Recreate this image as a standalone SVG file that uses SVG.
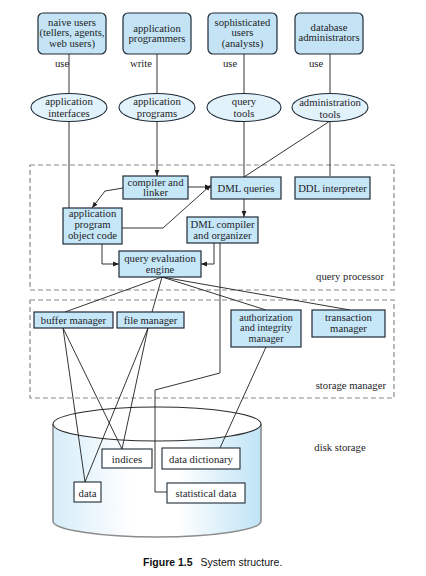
<svg xmlns="http://www.w3.org/2000/svg" width="426" height="576" viewBox="0 0 426 576">
<defs>
<style>
text{font-family:"Liberation Serif","DejaVu Serif",serif;font-size:10.7px;fill:#1e1e28;text-anchor:middle}
.sm{font-size:10.2px}
.ub{fill:#c4e4f5;stroke:#1e2a36;stroke-width:1.2}
.el{fill:#e2f2fb;stroke:#1e2a36;stroke-width:1.1}
.bx{fill:#c6e7f8;stroke:#1e2a36;stroke-width:1.2}
.wb{fill:#ffffff;stroke:#1e2a36;stroke-width:1.1}
.dash{fill:none;stroke:#8a8a8a;stroke-width:1.2;stroke-dasharray:5,3}
.ln{fill:none;stroke:#1e1e1e;stroke-width:0.9}
.ar{marker-end:url(#ah)}
.lbl{text-anchor:end}
.cap{font-family:"Liberation Sans",Arial,sans-serif;font-size:10.5px;text-anchor:start;fill:#111}
</style>
<marker id="ah" viewBox="0 0 10 10" refX="10" refY="5" markerWidth="6" markerHeight="6" orient="auto" markerUnits="userSpaceOnUse">
<path d="M0,1 L10,5 L0,9 Z" fill="#1e1e1e"/>
</marker>
<linearGradient id="cyl" x1="0" y1="0" x2="1" y2="0">
<stop offset="0" stop-color="#d6edf9"/>
<stop offset="0.38" stop-color="#ffffff"/>
<stop offset="0.6" stop-color="#ffffff"/>
<stop offset="1" stop-color="#bfe3f6"/>
</linearGradient>
</defs>

<!-- containers -->
<g id="query-processor">
<rect class="dash" x="30" y="165" width="364" height="125"/>
<text class="lbl" x="384" y="280">query processor</text>
</g>
<g id="storage-manager">
<rect class="dash" x="30" y="300" width="364" height="98"/>
<text class="lbl" x="386" y="389">storage manager</text>
</g>

<g id="disk-storage">
<path d="M53,424 L53,521 A104,16 0 0 0 261,521 L261,424 Z" fill="url(#cyl)" stroke="none"/>
<path d="M53,424 L53,521 A104,16 0 0 0 261,521 L261,424" fill="none" stroke="#8c8c8c" stroke-width="1.6"/>
<ellipse cx="157" cy="424" rx="104" ry="17" fill="#ffffff" stroke="#2a2a2a" stroke-width="1.1"/>
<text x="340" y="450.5">disk storage</text>
</g>

<!-- connectors -->
<g id="connectors">
<line class="ln" x1="69" y1="54" x2="69" y2="93"/>
<line class="ln" x1="157" y1="54" x2="157" y2="93"/>
<line class="ln" x1="244" y1="54" x2="244" y2="93"/>
<line class="ln" x1="330" y1="54" x2="330" y2="93"/>
<line class="ln" x1="69" y1="121" x2="69" y2="208"/>
<line class="ln ar" x1="157" y1="121" x2="157" y2="176"/>
<line class="ln" x1="244" y1="121" x2="244" y2="177"/>
<line class="ln" x1="330" y1="121" x2="330" y2="176"/>
<line class="ln" x1="330" y1="121" x2="244" y2="177"/>
<line class="ln ar" x1="188" y1="187" x2="211" y2="187"/>
<polyline class="ln ar" points="123,188 105,191 92,208"/>
<polyline class="ln ar" points="122,228 163,228 211,185"/>
<line class="ln ar" x1="244" y1="199" x2="244" y2="217"/>
<polyline class="ln ar" points="214,243 214,264 201,264"/>
<polyline class="ln ar" points="102,244 102,264 119,264"/>
<polyline class="ln" points="220,243 220,373 155,390 155,492 167,492"/>
<line class="ln" x1="162" y1="277" x2="65" y2="312"/>
<line class="ln" x1="162" y1="277" x2="152" y2="312"/>
<line class="ln" x1="162" y1="277" x2="266" y2="310"/>
<line class="ln" x1="162" y1="277" x2="350" y2="310"/>
<line class="ln" x1="63" y1="328" x2="85" y2="482"/>
<line class="ln" x1="63" y1="328" x2="122" y2="449"/>
<line class="ln" x1="148" y1="328" x2="85" y2="482"/>
<line class="ln" x1="148" y1="328" x2="122" y2="449"/>
<line class="ln" x1="266" y1="347" x2="220" y2="448"/>
</g>

<!-- users -->
<g id="naive-users">
<rect class="ub" x="38" y="13" width="68" height="41" rx="5"/>
<text x="72" y="25.5">naive users</text>
<text x="72" y="36.3">(tellers, agents,</text>
<text x="72" y="47.1">web users)</text>
<text x="62" y="67">use</text>
</g>
<g id="application-programmers">
<rect class="ub" x="123" y="13" width="68" height="41" rx="5"/>
<text x="157" y="31.5">application</text>
<text x="157" y="42.3">programmers</text>
<text x="141" y="67">write</text>
</g>
<g id="sophisticated-users">
<rect class="ub" x="208" y="13" width="69" height="41" rx="5"/>
<text x="242.5" y="25.5">sophisticated</text>
<text x="242.5" y="36.3">users</text>
<text x="242.5" y="47.1">(analysts)</text>
<text x="230" y="67">use</text>
</g>
<g id="database-administrators">
<rect class="ub" x="295" y="13" width="68" height="41" rx="5"/>
<text x="329" y="30.5">database</text>
<text x="329" y="41.3">administrators</text>
<text x="316" y="67">use</text>
</g>

<!-- tools -->
<g id="application-interfaces">
<ellipse class="el" cx="69" cy="107.5" rx="38" ry="14"/>
<text x="69" y="104.5">application</text>
<text x="69" y="116.5">interfaces</text>
</g>
<g id="application-programs">
<ellipse class="el" cx="157" cy="107.5" rx="38" ry="14"/>
<text x="157" y="104.5">application</text>
<text x="157" y="116.5">programs</text>
</g>
<g id="query-tools">
<ellipse class="el" cx="244" cy="107.5" rx="37" ry="14"/>
<text x="244" y="105">query</text>
<text x="244" y="117">tools</text>
</g>
<g id="administration-tools">
<ellipse class="el" cx="330" cy="107.5" rx="38" ry="14"/>
<text x="330" y="106">administration</text>
<text x="330" y="118">tools</text>
</g>

<!-- query processor nodes -->
<g id="compiler-linker">
<rect class="bx" x="123" y="176" width="65" height="23"/>
<text x="155.5" y="185.5">compiler and</text>
<text x="155.5" y="196.3">linker</text>
</g>
<g id="dml-queries">
<rect class="bx" x="211" y="177" width="70" height="22"/>
<text x="246" y="191.5">DML queries</text>
</g>
<g id="ddl-interpreter">
<rect class="bx" x="295" y="177" width="75" height="22"/>
<text x="332.5" y="191.5">DDL interpreter</text>
</g>
<g id="app-object-code">
<rect class="bx" x="63" y="208" width="59" height="36"/>
<text x="92.5" y="217.3">application</text>
<text x="92.5" y="228.3">program</text>
<text x="92.5" y="239.3">object code</text>
</g>
<g id="dml-compiler">
<rect class="bx" x="187" y="217" width="71" height="26"/>
<text x="222.5" y="228.3">DML compiler</text>
<text x="222.5" y="239.3">and organizer</text>
</g>
<g id="query-evaluation-engine">
<rect class="bx" x="119" y="251" width="82" height="26"/>
<text x="160" y="262.3">query evaluation</text>
<text x="160" y="273.3">engine</text>
</g>

<!-- storage manager nodes -->
<g id="buffer-manager">
<rect class="bx" x="34" y="312" width="79" height="16"/>
<text x="73.5" y="323.5">buffer manager</text>
</g>
<g id="file-manager">
<rect class="bx" x="117" y="312" width="67" height="16"/>
<text x="150.5" y="323.5">file manager</text>
</g>
<g id="authorization-manager">
<rect class="bx" x="231" y="310" width="70" height="37"/>
<text class="sm" x="266" y="320.5">authorization</text>
<text class="sm" x="266" y="331.3">and integrity</text>
<text class="sm" x="266" y="342.1">manager</text>
</g>
<g id="transaction-manager">
<rect class="bx" x="312" y="310" width="73" height="27"/>
<text x="348.5" y="320.5">transaction</text>
<text x="348.5" y="331.5">manager</text>
</g>

<!-- disk nodes -->
<g id="indices">
<rect class="wb" x="102" y="449" width="50" height="19"/>
<text x="127" y="462.5">indices</text>
</g>
<g id="data-dictionary">
<rect class="wb" x="162" y="448" width="78" height="21"/>
<text x="201" y="462.5">data dictionary</text>
</g>
<g id="data">
<rect class="wb" x="74" y="482" width="27" height="20"/>
<text x="87.5" y="496.5">data</text>
</g>
<g id="statistical-data">
<rect class="wb" x="167" y="483" width="78" height="20"/>
<text x="206" y="496.5">statistical data</text>
</g>

<g id="caption">
<text class="cap" x="143" y="565.5"><tspan font-weight="bold">Figure 1.5</tspan><tspan dx="8">System structure.</tspan></text>
</g>
</svg>
